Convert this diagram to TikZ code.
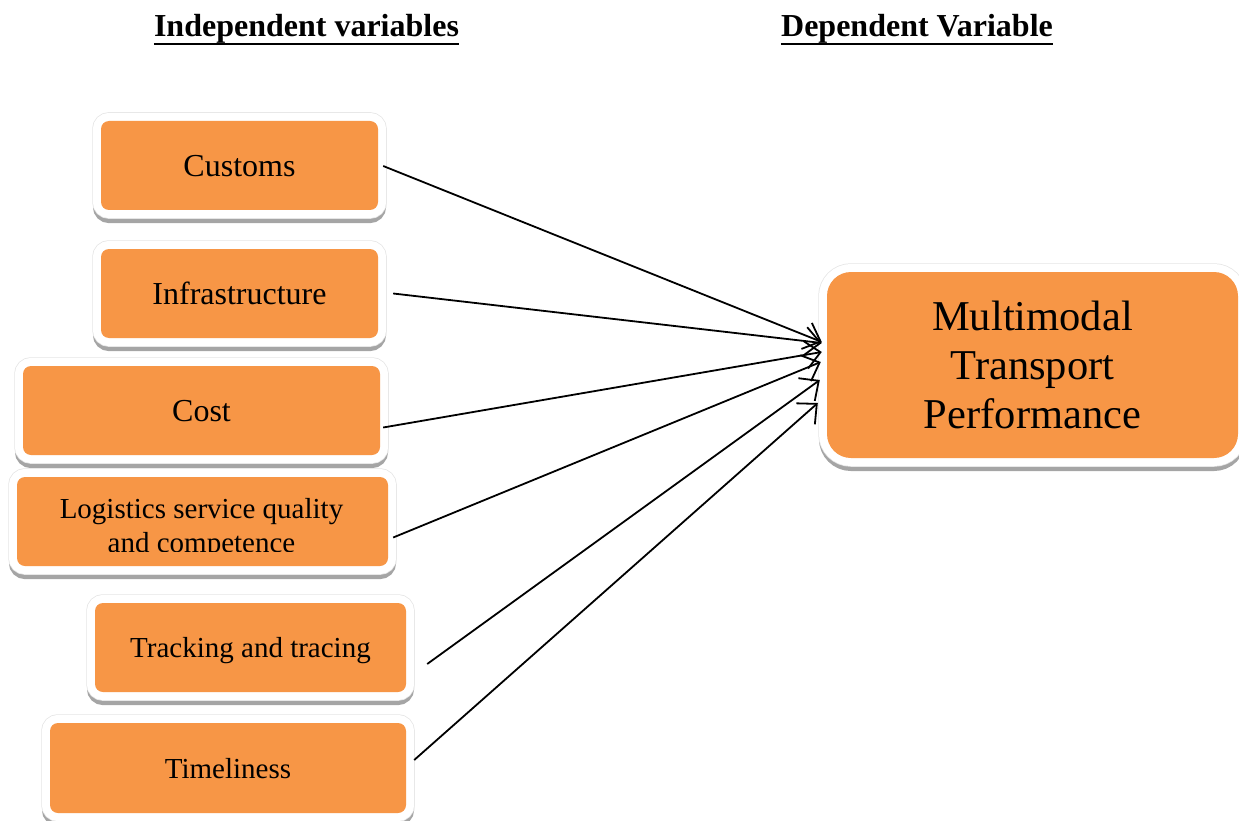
\documentclass[tikz,border=0pt]{standalone}
\usepackage{fontspec}
\setmainfont{Liberation Serif}
\usetikzlibrary{arrows.meta}
\definecolor{boxorange}{HTML}{F79646}
\definecolor{shadowgrey}{HTML}{A5A5A5}
\begin{document}
\begin{tikzpicture}[x=1pt,y=-1pt,
  varbox/.style={rectangle, rounded corners=#1, fill=boxorange, inner sep=0pt,
    align=center, text=black,
    preaction={draw=shadowgrey, fill=shadowgrey, line width=16pt,
               transform canvas={yshift=-5pt}},
    preaction={draw=black!10, line width=17.5pt},
    preaction={draw=white, fill=white, line width=16pt}},
  varbox/.default=8pt,
  bigfont/.style={font=\fontsize{32}{38}\selectfont},
  smallfont/.style={font=\fontsize{29}{34}\selectfont},
  heading/.style={anchor=base, inner sep=0pt, font=\fontsize{32}{38}\selectfont\bfseries},
  link/.style={draw, line width=1.8pt, -{Straight Barb[length=15pt,width=28pt]}}]

\useasboundingbox (0,0) rectangle (1239,821);

% column headings, underlined
\node[heading] (indep) at (306.5,36.7) {Independent variables};
\node[heading] (dep) at (917,36.7) {Dependent Variable};
\draw[line width=2.5pt] ([yshift=-7.5pt]indep.base west) -- ([yshift=-7.5pt]indep.base east);
\draw[line width=2.5pt] ([yshift=-7.5pt]dep.base west) -- ([yshift=-7.5pt]dep.base east);

% independent variables
\node[varbox, bigfont, text depth=0pt, minimum width=277pt, minimum height=89pt]
  (cust) at (239.5,165.5) {Customs};
\node[varbox, bigfont, text depth=0pt, minimum width=277pt, minimum height=89pt]
  (infra) at (239.5,293.5) {Infrastructure};
\node[varbox, bigfont, text depth=0pt, minimum width=357pt, minimum height=89pt]
  (cost) at (201.5,410.5) {Cost};
\node[varbox, minimum width=371pt, minimum height=89pt]
  (logi) at (202.5,521.5) {};
\begin{scope}
  \clip (10,470) rectangle (400,551.7);
  \node[smallfont, align=center, inner sep=0pt] (logitext) at (201.5,528.3)
    {Logistics service quality\\and competence};
\end{scope}
\node[varbox, smallfont, text depth=0pt, minimum width=311pt, minimum height=89pt]
  (track) at (250.5,647.5) {Tracking and tracing};
\node[varbox, smallfont, text depth=0pt, minimum width=356pt, minimum height=90pt]
  (time) at (228,768) {Timeliness};

% dependent variable
\node[varbox=24pt, font=\fontsize{42.5}{49}\selectfont, minimum width=411pt, minimum height=186pt]
  (mtp) at (1032.5,365) {Multimodal\\Transport\\Performance};

% relations
\draw[link] ([shift={(5pt,-0.5pt)}]cust.east)  -- ([shift={(-5pt,23pt)}]mtp.west);
\draw[link] ([shift={(15pt,0pt)}]infra.east)   -- ([shift={(-5pt,22pt)}]mtp.west);
\draw[link] ([shift={(3pt,-17pt)}]cost.east)   -- ([shift={(-5pt,13pt)}]mtp.west);
\draw[link] ([shift={(5pt,-16pt)}]logi.east)   -- ([shift={(-6pt,3pt)}]mtp.west);
\draw[link] ([shift={(21pt,-16.5pt)}]track.east) -- ([shift={(-7pt,-15pt)}]mtp.west);
\draw[link] ([shift={(8pt,8pt)}]time.east)     -- ([shift={(-9pt,-38pt)}]mtp.west);
\end{tikzpicture}
\end{document}
